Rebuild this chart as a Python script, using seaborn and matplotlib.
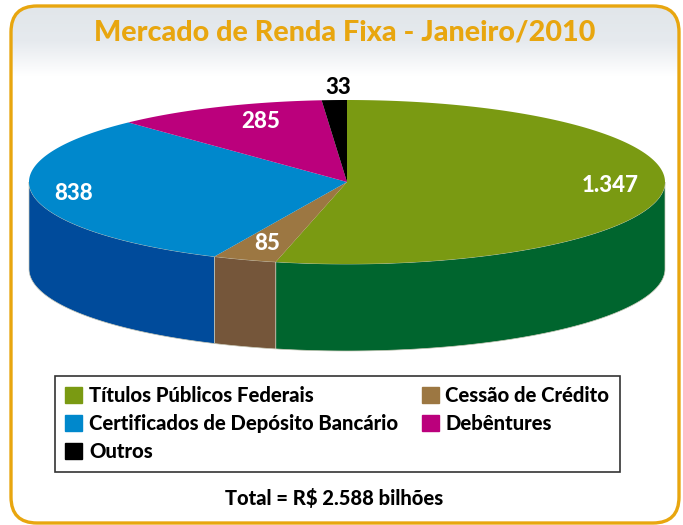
import numpy as np
import seaborn as sns
from matplotlib import pyplot as plt
from matplotlib.patches import FancyBboxPatch, Patch

# values in R$ billions
categories = [
    "Títulos Públicos Federais",
    "Cessão de Crédito",
    "Certificados de Depósito Bancário",
    "Debêntures",
    "Outros",
]
values = [1347, 85, 838, 285, 33]
title = "Mercado de Renda Fixa - Janeiro/2010"
total_label = "Total = R$ 2.588 bilhões"

top_colors = ["#7A9A12", "#9C7742", "#0088CC", "#BB007C", "#000000"]
side_colors = ["#00652E", "#75563A", "#004B9B", "#BB007C", "#000000"]

sns.set_theme(style="white")
plt.rcParams["font.family"] = ["Lato", "DejaVu Sans"]
top_palette = sns.color_palette(top_colors)
side_palette = sns.color_palette(side_colors)

# pie geometry, in picture pixels
cx, cy = 347, 182
rx, ry = 318, 82
depth = 87
# the near side of the tilted pie is stretched a little
warp = 5.6


def pie_angle(a):
    return a + warp * (1 - np.cos(np.radians(a))) / 2


def rim(a, drop=0):
    a = np.radians(a)
    return cx + rx * np.sin(a), cy - ry * np.cos(a) + drop


edges = np.concatenate([[0], np.cumsum(values)]) / np.sum(values) * 360

fig = plt.figure(figsize=(6.83, 5.25), dpi=100)
ax = fig.add_axes([0, 0, 1, 1])

# white panel, grey header fade, then the orange border on top
panel = FancyBboxPatch(
    (11, 6),
    668,
    517,
    boxstyle="round,pad=0,rounding_size=26",
    fc="white",
    ec="none",
    zorder=1,
)
ax.add_patch(panel)
fade = np.linspace(0, 1, 100).reshape(-1, 1)
header = ax.imshow(
    fade,
    extent=(11, 679, 76, 6),
    cmap=sns.blend_palette(["#E1E6EA", "#E6EAEE", "#FFFFFF"], as_cmap=True),
    aspect="auto",
    zorder=1.5,
)
header.set_clip_path(panel)
border = FancyBboxPatch(
    (11, 6),
    668,
    517,
    boxstyle="round,pad=0,rounding_size=26",
    fc="none",
    ec="#E8A60F",
    lw=2.4,
    zorder=1.8,
)
ax.add_patch(border)
ax.set_xlim(0, 683)
ax.set_ylim(525, 0)
ax.axis("off")

# pie side first, only the part facing us
for i in range(len(values)):
    a0, a1 = pie_angle(edges[i]), pie_angle(edges[i + 1])
    a0, a1 = max(a0, 90), min(a1, 270)
    if a1 <= a0:
        continue
    t = np.linspace(a0, a1, 200)
    x, y = rim(t)
    x2, y2 = rim(t[::-1], depth)
    ax.fill(
        np.r_[x, x2], np.r_[y, y2], color=side_palette[i], ec="#C9C9B8", lw=0.5, zorder=2
    )

# pie top
for i in range(len(values)):
    t = np.linspace(pie_angle(edges[i]), pie_angle(edges[i + 1]), 200)
    x, y = rim(t)
    ax.fill(np.r_[cx, x], np.r_[cy, y], color=top_palette[i], lw=0, zorder=3)

# value labels
label_pos = [(610, 185), (267, 244), (74, 193), (261, 121), (338, 87)]
label_colors = ["white", "white", "white", "white", "black"]
for v, (lx, ly), c in zip(values, label_pos, label_colors):
    ax.text(
        lx,
        ly,
        f"{v:,}".replace(",", "."),
        color=c,
        fontsize=16,
        fontweight="black",
        ha="center",
        va="center",
        zorder=4,
    )

ax.text(
    345,
    32,
    title,
    color="#E8A60F",
    fontsize=20.7,
    fontweight="black",
    ha="center",
    va="center",
    zorder=4,
)

# legend fills column by column
order = [0, 2, 4, 1, 3]
handles = [Patch(color=top_palette[i], label=categories[i]) for i in order]
leg = ax.legend(
    handles=handles,
    ncol=2,
    loc="upper left",
    bbox_to_anchor=(55, 376),
    bbox_transform=ax.transData,
    borderaxespad=0,
    frameon=True,
    fancybox=False,
    edgecolor="#333333",
    framealpha=1,
    prop={"size": 14.6, "weight": "black"},
    labelcolor="black",
    handlelength=0.85,
    handleheight=0.85,
    handletextpad=0.33,
    columnspacing=1.15,
    labelspacing=0.45,
    borderpad=0.5,
)
leg.get_frame().set_linewidth(1.2)
leg.set_zorder(4)

ax.text(
    334,
    498,
    total_label,
    color="black",
    fontsize=14.5,
    fontweight="black",
    ha="center",
    va="center",
    zorder=4,
)

fig.savefig("out.png", dpi=100, facecolor="white")
